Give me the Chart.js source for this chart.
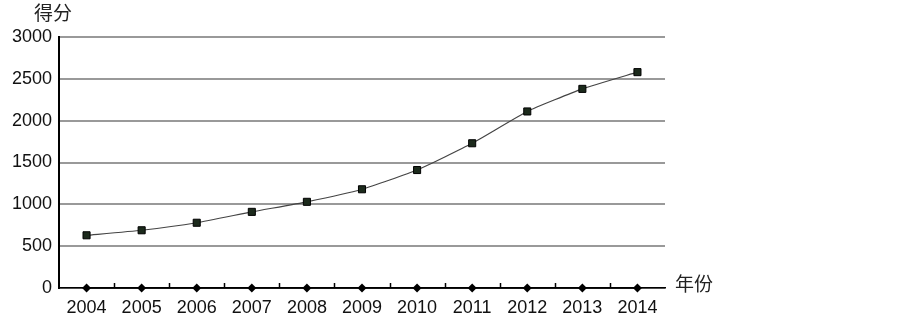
<!DOCTYPE html>
<html>
<head>
<meta charset="utf-8">
<script src="https://cdn.jsdelivr.net/npm/chart.js@4"></script>
<style>
  html, body { margin: 0; padding: 0; background: #fff; }
  #chart { display: block; }
</style>
</head>
<body>
<canvas id="chart" width="903" height="316"></canvas>
<script>
// 数据
const years = ['2004','2005','2006','2007','2008','2009','2010','2011','2012','2013','2014'];
const scores = [630, 690, 780, 910, 1030, 1180, 1410, 1730, 2110, 2380, 2580];
const baseline = [0, 0, 0, 0, 0, 0, 0, 0, 0, 0, 0];
const yTitle = '得分';
const xTitle = '年份';

// 坐标轴标题 + 向上的刻度线
const axisExtras = {
  id: 'axisExtras',
  beforeDatasetsDraw(chart) {
    const ctx = chart.ctx;
    const x = chart.scales.x;
    const area = chart.chartArea;
    ctx.save();
    ctx.strokeStyle = '#000';
    ctx.lineWidth = 1.5;
    ctx.beginPath();
    for (let i = 0; i < years.length - 1; i++) {
      const px = Math.round((x.getPixelForValue(i) + x.getPixelForValue(i + 1)) / 2) + 0.5;
      ctx.moveTo(px, area.bottom);
      ctx.lineTo(px, area.bottom - 5);
    }
    ctx.stroke();
    ctx.restore();
  },
  afterDraw(chart) {
    const ctx = chart.ctx;
    const area = chart.chartArea;
    ctx.save();
    ctx.fillStyle = '#222';
    ctx.font = '19px "Noto Sans CJK SC"';
    ctx.textAlign = 'center';
    ctx.textBaseline = 'middle';
    ctx.fillText(yTitle, 53, 13);
    ctx.textAlign = 'left';
    ctx.fillText(xTitle, area.right + 10, area.bottom - 4);
    ctx.restore();
  }
};

new Chart(document.getElementById('chart').getContext('2d'), {
  type: 'line',
  data: {
    labels: years,
    datasets: [
      {
        data: scores,
        borderColor: '#444',
        borderWidth: 1.2,
        backgroundColor: '#1c2a1c',
        pointStyle: 'rect',
        pointRadius: 5,
        pointBorderColor: '#000',
        pointBorderWidth: 1,
        tension: 0.15,
        clip: false
      },
      {
        data: baseline,
        borderColor: '#000',
        borderWidth: 1.5,
        backgroundColor: '#000',
        pointStyle: 'rectRot',
        pointRadius: 4.5,
        pointBorderWidth: 0,
        clip: false
      }
    ]
  },
  options: {
    responsive: false,
    animation: false,
    layout: { padding: { top: 37, right: 238, left: 0, bottom: 0 } },
    plugins: { legend: { display: false }, tooltip: { enabled: false } },
    scales: {
      x: {
        offset: true,
        grid: { display: false },
        border: { display: true, color: '#000', width: 1.5 },
        ticks: { color: '#111', font: { family: 'Liberation Sans', size: 18 }, padding: 1, maxRotation: 0 },
        afterFit(scale) { scale.height = 28; }
      },
      y: {
        min: 0,
        max: 3000,
        ticks: { stepSize: 500, color: '#111', font: { family: 'Liberation Sans', size: 18 }, padding: 7,
                 callback: v => String(v) },
        grid: { color: '#999', lineWidth: 2, drawTicks: false },
        border: { display: true, color: '#000', width: 2 },
        afterFit(scale) { scale.width = 59; }
      }
    }
  },
  plugins: [axisExtras]
});
</script>
</body>
</html>
